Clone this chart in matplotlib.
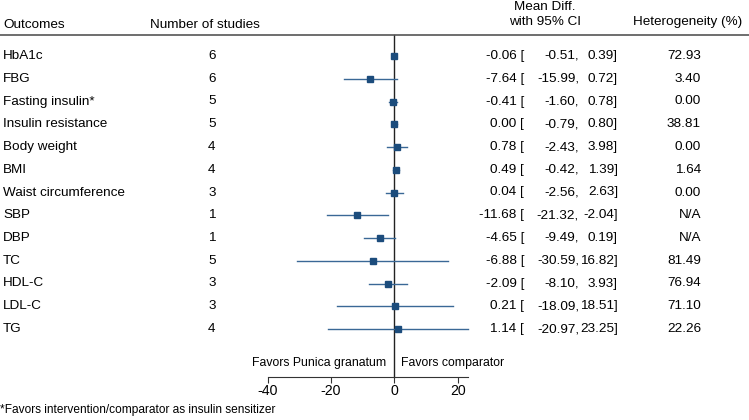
import matplotlib
matplotlib.use("Agg")
import matplotlib.pyplot as plt
import matplotlib.transforms as mtransforms

plt.rcParams['font.family'] = ['Liberation Sans', 'DejaVu Sans']

outcomes = ["HbA1c", "FBG", "Fasting insulin*", "Insulin resistance", "Body weight", "BMI",
            "Waist circumference", "SBP", "DBP", "TC", "HDL-C", "LDL-C", "TG"]
n_studies = [6, 6, 5, 5, 4, 4, 3, 1, 1, 5, 3, 3, 4]
mean_diff = [-0.06, -7.64, -0.41, 0.00, 0.78, 0.49, 0.04, -11.68, -4.65, -6.88, -2.09, 0.21, 1.14]
ci_low = [-0.51, -15.99, -1.60, -0.79, -2.43, -0.42, -2.56, -21.32, -9.49, -30.59, -8.10, -18.09, -20.97]
ci_high = [0.39, 0.72, 0.78, 0.80, 3.98, 1.39, 2.63, -2.04, 0.19, 16.82, 3.93, 18.51, 23.25]
heterogeneity = ["72.93", "3.40", "0.00", "38.81", "0.00", "1.64", "0.00", "N/A", "N/A",
                 "81.49", "76.94", "71.10", "22.26"]
xticks = [-40, -20, 0, 20]

W, H = 749, 420
fig = plt.figure(figsize=(W / 100, H / 100), dpi=100)
ax = fig.add_axes([0, 0, 1, 1])

# pixel layout: x=0 at 394.3 px, 20 units = 63.3 px; row i at 56 + 22.75*i px
ppu = 63.3 / 20
x0 = 394.3
ax.set_xlim(-x0 / ppu, (W - x0) / ppu)
row0, rstep = 56, 22.75
ax.set_ylim((H - row0) / rstep, -row0 / rstep)

def py(p):
    return (p - row0) / rstep

navy = '#1c4c7c'
rows = list(range(len(outcomes)))
for i in rows:
    ax.plot([ci_low[i], ci_high[i]], [i, i], color='#3a6896', lw=1.0, zorder=2)
ax.plot(mean_diff, rows, ls='none', marker='s', ms=4.3, color=navy, zorder=3)

# zero line and axis
ax.plot([0, 0], [py(35), py(377)], color='#222222', lw=1.0, zorder=1)
ax.axhline(py(35), color='#555555', lw=1.2)

fs = 9.7
for s in ['top', 'left', 'right']:
    ax.spines[s].set_visible(False)
ax.spines['bottom'].set_position(('data', py(377)))
ax.spines['bottom'].set_bounds(-40, ci_high[-1])
ax.spines['bottom'].set_color('#333333')
ax.set_xticks(xticks)
ax.set_xticklabels([str(t) for t in xticks])
ax.tick_params(axis='x', direction='out', length=4.5, color='#333333', labelsize=10.2, pad=0.5)
ax.set_yticks([])

tr = mtransforms.blended_transform_factory(fig.transFigure, ax.transData)

def fx(p):
    return p / W

# headers
ax.text(fx(3), py(25), "Outcomes", transform=tr, fontsize=fs, va='center')
ax.text(fx(150), py(25), "Number of studies", transform=tr, fontsize=fs, va='center')
ax.text(fx(545), py(7), "Mean Diff.", transform=tr, fontsize=fs, va='center', ha='center')
ax.text(fx(545), py(22), "with 95% CI", transform=tr, fontsize=fs, va='center', ha='center')
ax.text(fx(742), py(22), "Heterogeneity (%)", transform=tr, fontsize=fs, va='center', ha='right')

for i in rows:
    ax.text(fx(3), i, outcomes[i], transform=tr, fontsize=fs, va='center')
    ax.text(fx(212), i, str(n_studies[i]), transform=tr, fontsize=fs, va='center', ha='center')
    ax.text(fx(524), i, f"{mean_diff[i]:.2f} [", transform=tr, fontsize=fs, va='center', ha='right')
    ax.text(fx(579), i, f"{ci_low[i]:.2f},", transform=tr, fontsize=fs, va='center', ha='right')
    ax.text(fx(618), i, f"{ci_high[i]:.2f}]", transform=tr, fontsize=fs, va='center', ha='right')
    ax.text(fx(701), i, heterogeneity[i], transform=tr, fontsize=fs, va='center', ha='right')

ax.text(fx(386), py(363), "Favors Punica granatum", transform=tr, fontsize=8.8, va='center', ha='right')
ax.text(fx(401), py(363), "Favors comparator", transform=tr, fontsize=8.8, va='center', ha='left')
ax.text(fx(0), py(410), "*Favors intervention/comparator as insulin sensitizer", transform=tr,
        fontsize=8.6, va='center')

fig.savefig("out.png", dpi=100)
